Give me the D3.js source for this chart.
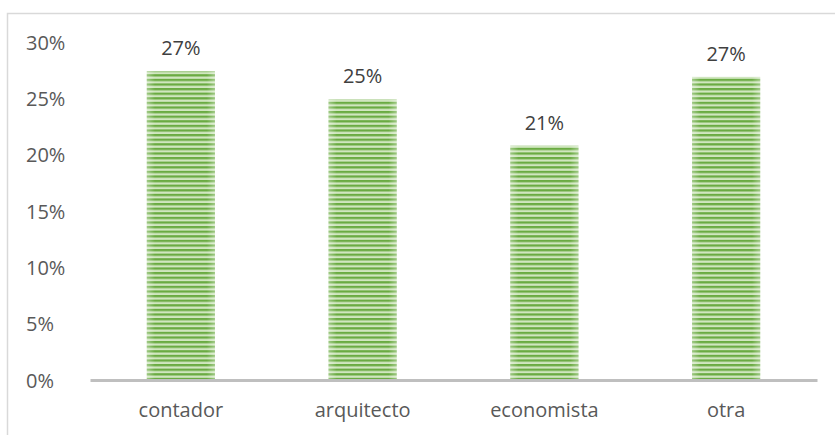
<!DOCTYPE html>
<html>
<head>
<meta charset="utf-8">
<script src="https://cdn.jsdelivr.net/npm/d3@7"></script>
<style>
  html, body { margin: 0; padding: 0; background: #fff; }
  svg { display: block; }
  text { font-family: "Open Sans", "Noto Sans", "Liberation Sans", sans-serif; }
</style>
</head>
<body>
<svg id="chart" width="835" height="435"></svg>
<script>
// Share of respondents by profession
const categories = ["contador", "arquitecto", "economista", "otra"];
const values = [0.274, 0.249, 0.208, 0.269];
const yTicks = [0, 0.05, 0.10, 0.15, 0.20, 0.25, 0.30];

const svg = d3.select("#chart");
const W = 835, H = 435;
const margin = { left: 90, right: 18, top: 42, bottom: 55 };
const plotW = W - margin.left - margin.right;
const plotH = H - margin.top - margin.bottom;
const fontSize = "20px";

// Outer frame of the chart area
svg.append("rect")
  .attr("x", 7.5).attr("y", 13.5)
  .attr("width", W).attr("height", H)
  .attr("fill", "#fff").attr("stroke", "#d9d9d9").attr("stroke-width", 1.5);

// Striped fill for the bars
const defs = svg.append("defs");
const pat = defs.append("pattern")
  .attr("id", "stripes").attr("patternUnits", "userSpaceOnUse")
  .attr("width", 8).attr("height", 4.6);
pat.append("rect").attr("width", 8).attr("height", 4.6).attr("fill", "#d0e6bf");
pat.append("rect").attr("y", 0).attr("width", 8).attr("height", 2.3).attr("fill", "#6aab42");

// Soft lighter edges on the left and right of each bar
const grad = defs.append("linearGradient").attr("id", "edgeFade")
  .attr("x1", "0").attr("x2", "1").attr("y1", "0").attr("y2", "0");
grad.append("stop").attr("offset", "0").attr("stop-color", "#fff").attr("stop-opacity", 0.35);
grad.append("stop").attr("offset", "0.12").attr("stop-color", "#fff").attr("stop-opacity", 0);
grad.append("stop").attr("offset", "0.88").attr("stop-color", "#fff").attr("stop-opacity", 0);
grad.append("stop").attr("offset", "1").attr("stop-color", "#fff").attr("stop-opacity", 0.35);

const g = svg.append("g").attr("transform", `translate(${margin.left},${margin.top})`);

const x = d3.scaleBand().domain(categories).range([0, plotW]).paddingInner(0.625).paddingOuter(0.3125);
const y = d3.scaleLinear().domain([0, 0.30]).range([plotH, 0]);

// Y axis labels (no axis line)
const yAxis = g.append("g").call(
  d3.axisLeft(y).tickValues(yTicks).tickFormat(d3.format(".0%")).tickSize(0).tickPadding(0)
);
yAxis.select(".domain").remove();
yAxis.selectAll("text")
  .attr("x", -64).attr("dy", "0.36em").attr("text-anchor", "start")
  .attr("fill", "#595959").style("font-size", fontSize);

// Bars
const data = categories.map((c, i) => ({ c, v: values[i] }));
const bars = g.append("g");
bars.selectAll("rect.bar").data(data).join("rect")
  .attr("class", "bar")
  .attr("x", d => x(d.c)).attr("width", x.bandwidth())
  .attr("y", d => y(d.v)).attr("height", d => y(0) - y(d.v))
  .attr("fill", "url(#stripes)");
bars.selectAll("rect.fade").data(data).join("rect")
  .attr("class", "fade")
  .attr("x", d => x(d.c)).attr("width", x.bandwidth())
  .attr("y", d => y(d.v)).attr("height", d => y(0) - y(d.v))
  .attr("fill", "url(#edgeFade)");

// Value labels
g.append("g").selectAll("text").data(data).join("text")
  .attr("x", d => x(d.c) + x.bandwidth() / 2)
  .attr("y", d => y(d.v) - 16)
  .attr("text-anchor", "middle")
  .attr("fill", "#404040").style("font-size", fontSize)
  .text(d => d3.format(".0%")(d.v));

// X axis: baseline and category labels
const xAxis = g.append("g").attr("transform", `translate(0,${plotH})`)
  .call(d3.axisBottom(x).tickSize(0).tickPadding(23));
xAxis.select(".domain").attr("stroke", "#bfbfbf").attr("stroke-width", 3);
xAxis.selectAll("text").attr("fill", "#595959").style("font-size", fontSize);
</script>
</body>
</html>
